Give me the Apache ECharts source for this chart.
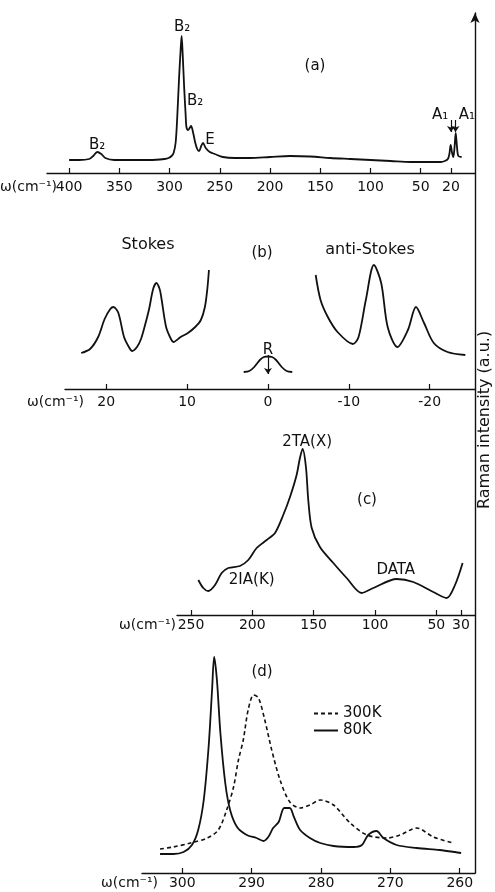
<!DOCTYPE html>
<html>
<head>
<meta charset="utf-8">
<title>Raman spectra</title>
<script src="https://cdn.jsdelivr.net/npm/echarts@6/dist/echarts.min.js"></script>
<style>
    html, body { margin: 0; padding: 0; background: #fff; }
    #chart { width: 495px; height: 892px; }
</style>
</head>
<body>
<div id="chart"></div>
<script>
// (a) full spectrum
const aShift = [400, 390, 380, 376, 372, 368, 364, 355, 340, 320, 305, 301, 298, 296, 294, 292.5, 290.5, 289, 288, 287, 285.5, 284, 283.2, 281.5, 278.6, 276.5, 274.6, 272.5, 270.6, 268.5, 266.7, 264, 260, 255, 247, 235, 220, 200, 180, 160, 140, 120, 100, 80, 60, 40, 30, 26, 23, 21.5, 20.2, 18.8, 17.6, 16.5, 15.2, 14, 12.6, 9.3];
const aIntensity = [13, 13, 14, 17, 21, 19, 15, 13, 13, 13, 14, 15, 17, 20, 30, 53, 96, 123, 137, 120, 86, 58, 46, 43, 47, 40, 31, 24, 22, 27, 30, 25, 21, 19, 16, 15, 15, 16, 17, 16.5, 15, 14, 13, 12, 11, 11, 11, 12, 14, 19, 28, 20, 16, 24, 40, 27, 17, 16];
const aTicks = [400, 350, 300, 250, 200, 150, 100, 50, 20];

// (b) low-frequency region, Stokes / Rayleigh / anti-Stokes
const bStokesShift = [23.1, 22, 21, 20.2, 19.5, 19.1, 18.5, 17.8, 17.2, 16.8, 16.2, 15.7, 15.2, 14.7, 14.2, 13.8, 13.4, 13.2, 12.6, 12, 11.7, 10.8, 9.9, 9, 8.3, 7.8, 7.5, 7.3];
const bStokesInt = [36, 40, 52, 70, 80, 82, 76, 52, 42, 38, 42, 50, 64, 80, 100, 106, 100, 92, 62, 50, 47, 52, 56, 62, 69, 82, 100, 119];
const bRayleighShift = [3, 2.3, 1.7, 1, 0.5, 0, -0.5, -1, -1.7, -2.3, -3];
const bRayleighInt = [17, 18, 22, 29, 32, 32.5, 32, 29, 22, 18, 17];
const bAntiShift = [-5.9, -6.5, -7.4, -8.6, -10.5, -11.2, -12.1, -13.1, -14, -14.8, -16, -17.3, -18.3, -19.3, -20.5, -22.2, -24.4];
const bAntiInt = [114, 89, 72, 57, 45, 52, 89, 124, 106, 62, 42, 59, 82, 66, 46, 37, 34];
const bTicks = [20, 10, 0, -10, -20];

// (c) second-order spectrum
const cShift = [244, 240, 235.9, 230.4, 225, 219.6, 210.1, 203.3, 196.5, 188.3, 181.5, 174.8, 169.3, 163.9, 161.2, 159, 156.3, 154.4, 151.6, 144.9, 134, 123.1, 110.9, 101.4, 82.3, 68.8, 52.5, 41.6, 34.8, 28.6];
const cIntensity = [35, 27, 24, 30, 42, 47, 49, 55, 67, 75, 82, 100, 118, 140, 157, 166, 148, 115, 87, 68, 52, 37, 22, 27, 36, 33, 23, 17, 30, 52];
const cTicks = [250, 200, 150, 100, 50, 30];

// (d) B2 region at two temperatures
const dShift80 = [303.2, 301.3, 299.8, 298.6, 297.7, 296.9, 296.2, 295.7, 295.4, 295, 294.5, 293.8, 293.1, 292.1, 290.7, 289.3, 288.3, 287.6, 286.9, 286.1, 285.3, 284.5, 283.9, 283, 281.6, 280.1, 278.2, 275.3, 274.1, 273.2, 272, 271, 269.1, 266.2, 262.9, 260.7, 259.8];
const dInt80 = [19, 19, 21, 28, 43, 73, 126, 183, 216, 193, 140, 90, 63, 46, 38, 35, 32, 36, 45, 51, 65, 65, 56, 43, 35, 30, 27, 26, 28, 38, 42, 35, 28, 25, 23, 21, 20];
const dShift300 = [303.2, 301.3, 298.8, 296.4, 294.8, 293.6, 292.6, 291.9, 291.2, 290.5, 289.7, 289, 288.1, 287.1, 285.9, 284.5, 283, 281.6, 280.1, 278.2, 275.8, 273.4, 270.5, 268.6, 266.2, 263.8, 261];
const dInt300 = [24, 26, 30, 35, 43, 63, 86, 113, 133, 163, 178, 175, 153, 123, 93, 71, 65, 68, 73, 68, 50, 38, 35, 38, 45, 36, 30];
const dTicks = [300, 290, 280, 270, 260];

const FONT = 'DejaVu Sans';
const INK = '#111';

const pairs = (xs, ys) => xs.map((x, i) => [x, ys[i]]);

const panelGrid = (left, top, height) => ({ left, top, height, right: 20, outerBoundsMode: 'none' });

const panelX = (gridIndex, min, max, ticks, margin) => ({
    type: 'value',
    gridIndex,
    min,
    max,
    inverse: true,
    axisLine: { onZero: false, lineStyle: { color: INK, width: 1.4 } },
    axisTick: { inside: true, length: 5, customValues: ticks, lineStyle: { color: INK, width: 1.2 } },
    axisLabel: { customValues: ticks, margin, color: INK, fontSize: 14, fontFamily: FONT },
    splitLine: { show: false },
});

const panelY = (gridIndex, max) => ({ type: 'value', gridIndex, min: 0, max, show: false });

const tags = (list) => ({
    symbol: 'circle',
    symbolSize: 0,
    silent: true,
    label: { position: 'inside', color: INK, fontSize: 15, fontFamily: FONT },
    data: list.map(([text, x, y]) => ({ coord: [x, y], label: { formatter: text } })),
});

const arrows = (list) => ({
    silent: true,
    symbol: ['none', 'arrow'],
    symbolSize: 6,
    label: { show: false },
    lineStyle: { color: INK, width: 1.2, type: 'solid' },
    data: list.map(([x, from, to]) => [{ coord: [x, from] }, { coord: [x, to] }]),
});

const spectrum = (name, idx, xs, ys, extra) => Object.assign({
    name,
    type: 'line',
    xAxisIndex: idx,
    yAxisIndex: idx,
    data: pairs(xs, ys),
    symbol: 'none',
    smooth: 0.3,
    silent: true,
    lineStyle: { color: INK, width: 1.8 },
    itemStyle: { color: INK },
}, extra || {});

const textAt = (text, x, y, align, size) => ({
    type: 'text',
    x,
    y,
    silent: true,
    style: {
        text,
        fill: INK,
        font: `${size || 15}px "${FONT}"`,
        textAlign: align || 'center',
        align: align || 'center',
        textVerticalAlign: 'middle',
        verticalAlign: 'middle',
    },
});

const chart = echarts.init(document.getElementById('chart'));

chart.setOption({
    backgroundColor: '#fff',
    animation: false,
    textStyle: { fontFamily: FONT },
    grid: [
        panelGrid(47, 20, 153),
        panelGrid(65, 249, 140),
        panelGrid(177, 440, 175),
        panelGrid(142, 650, 223),
        { left: 400, right: 20, top: 13, bottom: 19, outerBoundsMode: 'none' },
    ],
    xAxis: [
        panelX(0, -4, 422, aTicks, 7),
        panelX(1, -25.6, 25.1, bTicks, 6),
        panelX(2, 18.5, 261.4, cTicks, 3),
        panelX(3, 257.8, 305.8, dTicks, 3),
        { type: 'value', gridIndex: 4, min: 0, max: 1, show: false },
    ],
    yAxis: [
        panelY(0, 153),
        panelY(1, 140),
        panelY(2, 175),
        panelY(3, 223),
        {
            type: 'value',
            gridIndex: 4,
            position: 'right',
            min: 0,
            max: 1,
            axisLine: {
                show: true,
                onZero: false,
                symbol: ['none', 'arrow'],
                symbolSize: [7, 10],
                lineStyle: { color: INK, width: 1.4 },
            },
            axisTick: { show: false },
            axisLabel: { show: false },
            splitLine: { show: false },
            name: 'Raman intensity (a.u.)',
            nameLocation: 'middle',
            nameGap: 2,
            nameTextStyle: { color: INK, fontSize: 16, fontFamily: FONT, padding: [0, 0, 0, 46] },
        },
    ],
    legend: {
        data: ['300K', '80K'],
        orient: 'vertical',
        left: 308,
        top: 701,
        itemWidth: 24,
        itemHeight: 10,
        itemGap: 2,
        selectedMode: false,
        itemStyle: { opacity: 0, borderWidth: 0 },
        textStyle: { color: INK, fontSize: 15, fontFamily: FONT },
    },
    series: [
        spectrum('a', 0, aShift, aIntensity, {
            markPoint: tags([
                ['B₂', 372.1, 28],
                ['B₂', 287.6, 146],
                ['B₂', 274.6, 72],
                ['E', 259.7, 33],
                ['A₁', 30.8, 58],
                ['A₁', 4, 58],
            ]),
            markLine: arrows([[19.9, 53, 41], [15.4, 53, 41]]),
        }),
        spectrum('Stokes', 1, bStokesShift, bStokesInt),
        spectrum('Rayleigh', 1, bRayleighShift, bRayleighInt, {
            markPoint: tags([['R', 0, 39]]),
            markLine: arrows([[0, 34, 15]]),
        }),
        spectrum('anti-Stokes', 1, bAntiShift, bAntiInt),
        spectrum('c', 2, cShift, cIntensity, {
            markPoint: tags([
                ['2TA(X)', 155.3, 173],
                ['2IA(K)', 200.5, 35],
                ['DATA', 83.1, 45],
            ]),
        }),
        spectrum('300K', 3, dShift300, dInt300, {
            lineStyle: { color: INK, width: 1.6, type: [4, 3] },
        }),
        spectrum('80K', 3, dShift80, dInt80),
    ],
    graphic: [
        textAt('(a)', 315, 66),
        textAt('Stokes', 148, 245, 'center', 16),
        textAt('(b)', 262, 253),
        textAt('anti-Stokes', 370, 250, 'center', 16),
        textAt('(c)', 367, 500),
        textAt('(d)', 262, 672),
        textAt('ω(cm⁻¹)', 0, 187, 'left', 14),
        textAt('ω(cm⁻¹)', 84, 402, 'right', 14),
        textAt('ω(cm⁻¹)', 176, 625, 'right', 14),
        textAt('ω(cm⁻¹)', 158, 883, 'right', 14),
    ],
});

window.addEventListener('resize', () => chart.resize());
</script>
</body>
</html>
